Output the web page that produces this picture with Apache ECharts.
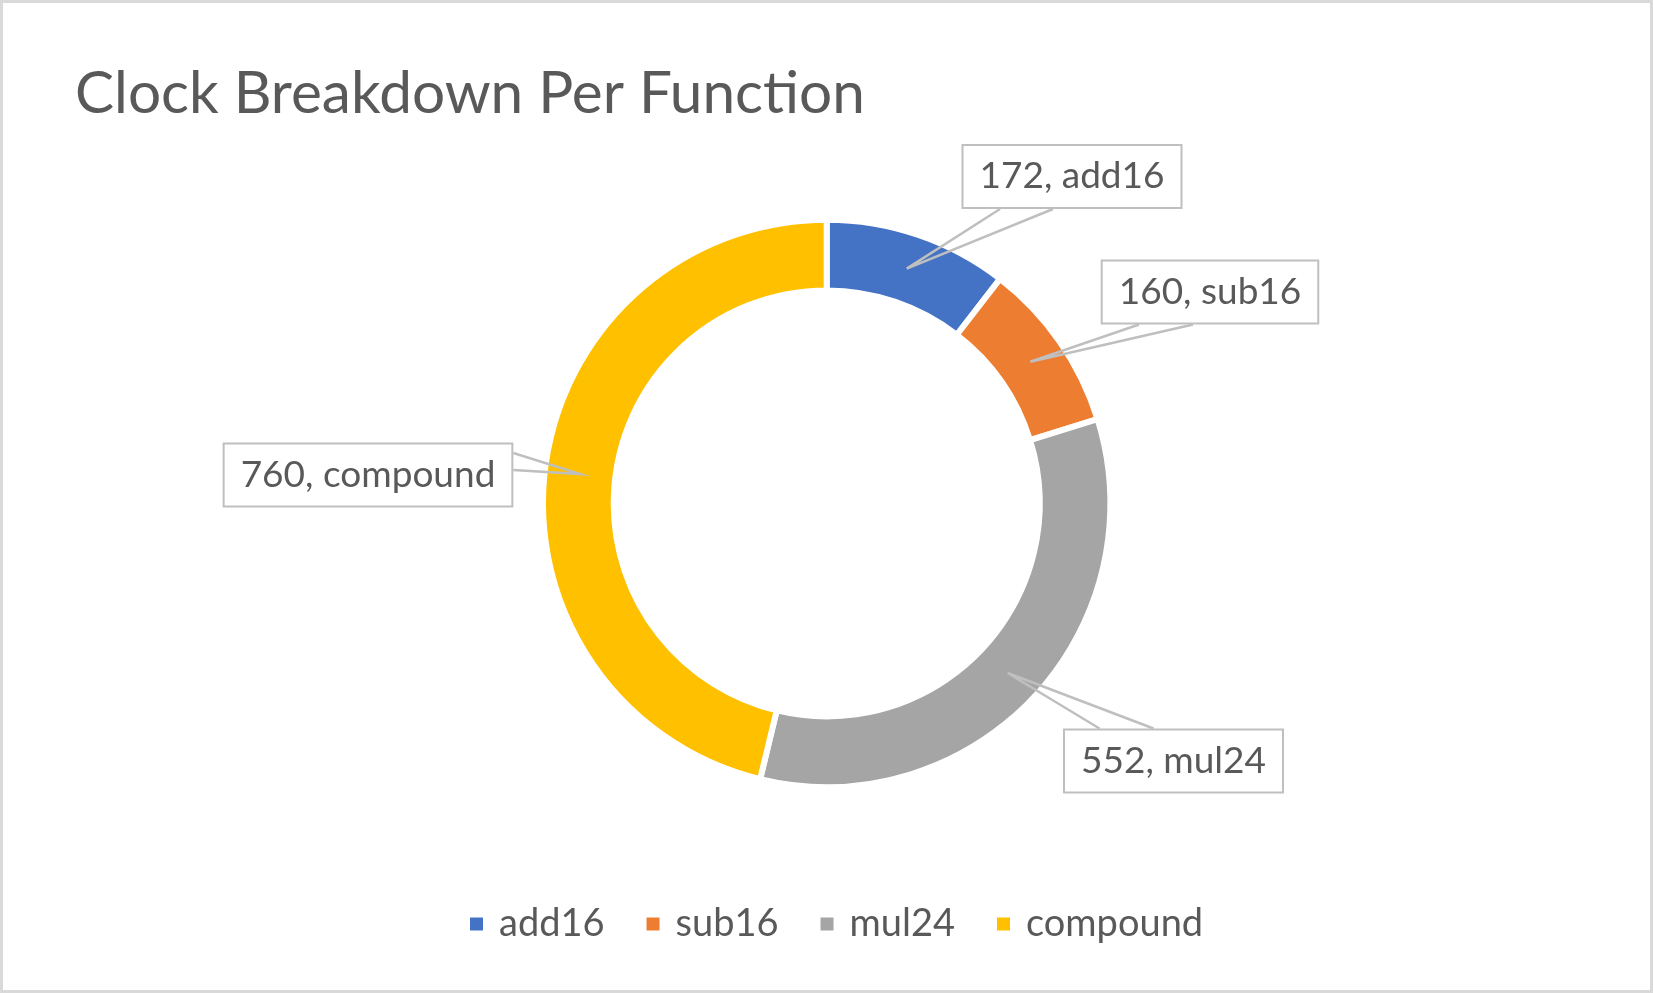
<!DOCTYPE html>
<html>
<head>
<meta charset="utf-8">
<title>Clock Breakdown Per Function</title>
<script src="https://cdn.jsdelivr.net/npm/echarts@6/dist/echarts.min.js"></script>
<style>
  html, body { margin: 0; padding: 0; background: #fff; }
  .chart-wrap { position: relative; width: 1653px; height: 993px; }
  .chart-content { width: 100%; height: 100%; }
  /* thin grey frame round the whole chart area */
  .chart-frame { position: absolute; left: 0; top: 0; right: 0; bottom: 0; border: 3px solid #d9d9d9; pointer-events: none; }
</style>
</head>
<body>
<div class="chart-wrap">
  <div class="chart-content" id="pieDom"></div>
  <div class="chart-frame"></div>
</div>
<script>
const titleText = "Clock Breakdown Per Function";
const categories = ["add16", "sub16", "mul24", "compound"];
const clockValues = [172, 160, 552, 760];
const sliceColors = ["#4472c4", "#ed7d31", "#a5a5a5", "#ffc000"];

// callout boxes: centre of each box, and where the wedge meets the box
const labelCenters = [[1072, 176.5], [1210, 292], [1173.5, 761], [368, 475]];
const calloutBases = [["bottom", -72, -19], ["bottom", -71, -17], ["top", -74, -20], ["right", -22, -5]];

const pieCenter = [826.7, 503.4];
const outerR = 283.7;
const innerR = 213;
const tipR = 248; // wedge tip sits in the middle of the ring

const textColor = "#595959";
const fontFamily = "Lato";

const pieData = categories.map((name, i) => ({ name: name, value: clockValues[i] }));

var myChart = echarts.init(document.getElementById("pieDom"));

const calloutLayout = (params) => {
  const i = params.dataIndex;
  const c = labelCenters[i];
  const w = params.labelRect.width;
  const h = params.labelRect.height;
  let ang = 0;
  if (params.labelLinePoints && params.labelLinePoints.length) {
    const p0 = params.labelLinePoints[0];
    ang = Math.atan2(p0[1] - pieCenter[1], p0[0] - pieCenter[0]);
  }
  const tip = [pieCenter[0] + tipR * Math.cos(ang), pieCenter[1] + tipR * Math.sin(ang)];
  const b = calloutBases[i];
  let b1, b2;
  if (b[0] === "bottom") {
    b1 = [c[0] + b[1], c[1] + h / 2];
    b2 = [c[0] + b[2], c[1] + h / 2];
  } else if (b[0] === "top") {
    b1 = [c[0] + b[1], c[1] - h / 2];
    b2 = [c[0] + b[2], c[1] - h / 2];
  } else {
    b1 = [c[0] + w / 2, c[1] + b[1]];
    b2 = [c[0] + w / 2, c[1] + b[2]];
  }
  return {
    x: c[0],
    y: c[1],
    align: "center",
    verticalAlign: "middle",
    labelLinePoints: [b1, tip, b2]
  };
};

var option = {
  animation: false,
  color: sliceColors,
  title: {
    text: titleText,
    left: 70,
    top: 60,
    textStyle: {
      fontFamily: fontFamily,
      fontSize: 58.5,
      fontWeight: "normal",
      color: textColor
    }
  },
  legend: {
    data: categories,
    left: 463,
    top: 900,
    icon: "rect",
    itemWidth: 15,
    itemHeight: 15,
    itemGap: 40,
    textStyle: {
      fontFamily: fontFamily,
      fontSize: 38,
      color: textColor,
      padding: [0, 0, 0, 10]
    }
  },
  series: [
    {
      // the ring itself
      type: "pie",
      z: 2,
      center: pieCenter,
      radius: [innerR, outerR],
      startAngle: 90,
      clockwise: true,
      silent: true,
      label: { show: false },
      labelLine: { show: false },
      itemStyle: { borderColor: "#ffffff", borderWidth: 6 },
      data: pieData
    },
    {
      // invisible copy that only carries the callout labels, drawn on top
      type: "pie",
      z: 5,
      center: pieCenter,
      radius: [innerR, outerR],
      startAngle: 90,
      clockwise: true,
      silent: true,
      itemStyle: { color: "rgba(0,0,0,0)" },
      label: {
        show: true,
        position: "outside",
        formatter: "{c}, {b}",
        fontFamily: fontFamily,
        fontSize: 37,
        color: textColor,
        backgroundColor: "#ffffff",
        borderColor: "#bfbfbf",
        borderWidth: 2,
        padding: [12, 16]
      },
      labelLine: {
        show: true,
        lineStyle: { color: "#bfbfbf", width: 2.5 }
      },
      labelLayout: calloutLayout,
      data: pieData
    }
  ]
};
option && myChart.setOption(option);
</script>
</body>
</html>
